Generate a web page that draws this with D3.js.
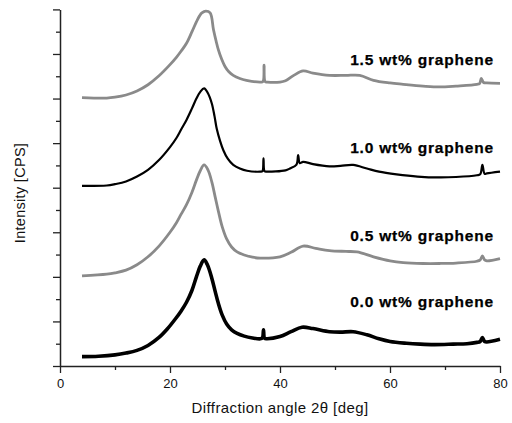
<!DOCTYPE html>
<html><head><meta charset="utf-8">
<script src="https://cdn.jsdelivr.net/npm/d3@7"></script>
<style>html,body{margin:0;padding:0;background:#fff;}svg{display:block;}</style>
</head><body>
<svg id="c" width="512" height="423"></svg>
<script>
// ---- data (intensity in arbitrary units, stacked offsets as plotted) ----
const seriesNames = ["0.0 wt% graphene", "0.5 wt% graphene", "1.0 wt% graphene", "1.5 wt% graphene"];
const seriesColors = ["#000000", "#8a8a8a", "#000000", "#8a8a8a"];
const xTicks = [0, 20, 40, 60, 80];
const xMinorTicks = [10, 30, 50, 70];

const angle00 = [4,7,10,12,14,16,18,19.5,21,22,23,24,24.8,25.5,26.2,26.8,27.6,28.2,28.8,29.5,30.3,31.2,32.2,33.5,35,36.4,36.8,37,37.2,37.6,40,42,44,46,49,51,53.3,55.8,58,60,63,65.5,68,71.5,74,75.8,76.4,76.8,77.2,77.6,80];
const int00   = [0.21,0.22,0.25,0.29,0.35,0.46,0.64,0.83,1.06,1.23,1.43,1.70,2.00,2.24,2.38,2.27,1.97,1.68,1.40,1.14,0.94,0.81,0.73,0.67,0.63,0.61,0.63,0.81,0.62,0.61,0.66,0.77,0.87,0.84,0.77,0.76,0.77,0.70,0.61,0.55,0.51,0.49,0.48,0.49,0.50,0.53,0.55,0.64,0.55,0.54,0.60];

const angle05 = [4,8.5,10,12,14,16,18,20,21.2,22,23,24,24.8,25.5,26.2,26.9,27.6,28.2,28.8,29.5,30.3,31.2,32.2,33.5,35,36.4,40,42,44.2,46.5,49,52,54,57,60,62.4,66,69,72,75.8,76.4,76.8,77.2,77.6,80];
const int05   = [2.02,2.06,2.09,2.15,2.27,2.45,2.69,3.00,3.22,3.40,3.62,3.90,4.17,4.38,4.51,4.40,4.13,3.80,3.47,3.12,2.85,2.67,2.56,2.49,2.44,2.42,2.45,2.55,2.69,2.64,2.59,2.57,2.56,2.45,2.36,2.32,2.30,2.30,2.31,2.35,2.38,2.47,2.38,2.36,2.41];

const angle10 = [4,8.5,10,12,14,16,18,20,21.2,22,23,24,24.8,25.5,26.2,26.9,27.6,28.1,28.5,29.1,29.7,30.5,31.5,32.7,34,36.4,36.8,37,37.2,37.6,41,41.8,43,43.3,43.6,44.2,46,49,51,53.3,55.8,58,61.2,65,69,72,75.8,76.4,76.8,77.2,77.6,80];
const int10   = [4.04,4.05,4.08,4.14,4.25,4.40,4.62,4.91,5.12,5.30,5.52,5.78,6.00,6.15,6.23,6.12,5.89,5.60,5.32,5.05,4.84,4.65,4.51,4.43,4.38,4.36,4.37,4.66,4.37,4.36,4.39,4.43,4.52,4.73,4.55,4.58,4.53,4.48,4.49,4.51,4.43,4.36,4.30,4.25,4.23,4.24,4.28,4.30,4.51,4.31,4.32,4.36];

const angle15 = [4,8.5,10,12,14,16,18,20,21.2,22,23,24,24.8,25.4,25.8,26.5,27.3,27.9,28.4,28.8,29.4,30,30.7,31.5,32.7,33.9,36.4,36.9,37.1,37.3,37.7,40,41,42.5,44.2,46,49,52,54.5,57,60,62.4,66,69,72,75.8,76.3,76.6,77,77.6,80];
const int15   = [6.02,6.01,6.03,6.08,6.17,6.31,6.51,6.76,6.93,7.06,7.24,7.50,7.72,7.86,7.92,7.96,7.92,7.55,7.28,7.09,6.88,6.72,6.60,6.52,6.45,6.41,6.37,6.38,6.75,6.38,6.37,6.37,6.40,6.52,6.62,6.57,6.52,6.52,6.52,6.41,6.35,6.32,6.28,6.26,6.28,6.32,6.34,6.45,6.36,6.35,6.34];

const labelLevels = [1.32, 2.81, 4.78, 6.75];

const angles = [angle00, angle05, angle10, angle15];
const intensities = [int00, int05, int10, int15];

// ---- drawing ----
const svg = d3.select("#c");
const x = d3.scaleLinear().domain([0, 80]).range([60, 500]);
const y = d3.scaleLinear().domain([0, 8]).range([366, 9.4]);
const font = "Arial, 'Liberation Sans', sans-serif";

const line = d3.line().x(d => x(d[0])).y(d => y(d[1])).curve(d3.curveCatmullRom.alpha(0.5));
const widths = [3.6, 2.8, 2.2, 2.8];

angles.forEach((a, i) => {
  const pts = a.map((v, j) => [v, intensities[i][j]]);
  svg.append("path").datum(pts)
    .attr("d", line)
    .attr("fill", "none")
    .attr("stroke", seriesColors[i])
    .attr("stroke-width", widths[i])
    .attr("stroke-linejoin", "round");
});

// axes
const axisColor = "#222";
const xAxis = svg.append("g").attr("transform", `translate(0,${y(0)})`)
  .call(d3.axisBottom(x).tickValues(xTicks).tickFormat(d3.format("d")).tickSize(7).tickSizeOuter(0));
xAxis.select(".domain").attr("stroke", axisColor).attr("stroke-width", 1.5);
xAxis.selectAll(".tick line").attr("stroke", axisColor).attr("stroke-width", 1.3);
xAxis.selectAll("text").attr("font-family", font).attr("font-size", 13).attr("fill", "#111").attr("dy", "0.9em");
const xMinor = svg.append("g").attr("transform", `translate(0,${y(0)})`)
  .call(d3.axisBottom(x).tickValues(xMinorTicks).tickFormat("").tickSize(4).tickSizeOuter(0));
xMinor.select(".domain").remove();
xMinor.selectAll(".tick line").attr("stroke", axisColor).attr("stroke-width", 1.3);

const yAxis = svg.append("g").attr("transform", `translate(${x(0)},0)`)
  .call(d3.axisLeft(y).tickValues(d3.range(0, 9, 1)).tickFormat("").tickSize(7).tickSizeOuter(0));
yAxis.select(".domain").attr("stroke", axisColor).attr("stroke-width", 1.5);
yAxis.selectAll(".tick line").attr("stroke", axisColor).attr("stroke-width", 1.3);
const yMinor = svg.append("g").attr("transform", `translate(${x(0)},0)`)
  .call(d3.axisLeft(y).tickValues(d3.range(0.5, 8, 1)).tickFormat("").tickSize(4).tickSizeOuter(0));
yMinor.select(".domain").remove();
yMinor.selectAll(".tick line").attr("stroke", axisColor).attr("stroke-width", 1.3);

// series labels
seriesNames.forEach((n, i) => {
  svg.append("text")
    .attr("x", x(78.9)).attr("y", y(labelLevels[i]))
    .attr("text-anchor", "end")
    .attr("font-family", font)
    .attr("font-weight", "bold").attr("font-size", 15.5)
    .attr("letter-spacing", 0.8)
    .attr("fill", "#000")
    .attr("stroke", "#000").attr("stroke-width", 0.25)
    .text(n);
});

// axis titles
svg.append("text")
  .attr("transform", `translate(25,193) rotate(-90)`)
  .attr("text-anchor", "middle")
  .attr("font-family", font)
  .attr("font-size", 14.5).attr("letter-spacing", 0.3).attr("fill", "#111")
  .text("Intensity [CPS]");
svg.append("text")
  .attr("x", 280).attr("y", 413)
  .attr("text-anchor", "middle")
  .attr("font-family", font)
  .attr("font-size", 15).attr("letter-spacing", 0.4).attr("fill", "#111")
  .text("Diffraction angle 2θ [deg]");
</script>
</body></html>
